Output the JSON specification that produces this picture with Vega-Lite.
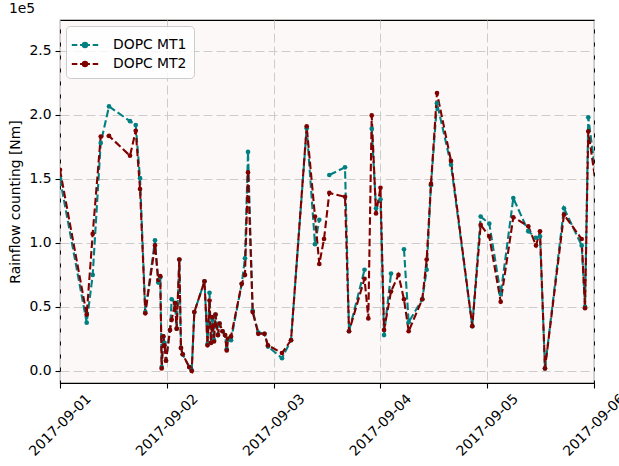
{
 "$schema": "https://vega.github.io/schema/vega-lite/v6.json",
 "width": 534, "height": 363,
 "autosize": {"type": "none"},
 "padding": {"left": 60, "top": 20, "right": 25, "bottom": 83},
 "background": "white",
 "config": {
  "font": "DejaVu Sans",
  "view": {"fill": "#fdf8f8", "stroke": "#000000", "strokeWidth": 1.1},
  "axis": {"labelFont": "DejaVu Sans", "labelFontSize": 13.9, "labelColor": "#000", "titleFont": "DejaVu Sans", "titleFontSize": 13.9, "titleFontWeight": "normal", "titleColor": "#000", "tickColor": "#000", "tickSize": 5, "tickWidth": 1.1, "labelPadding": 4, "domain": false, "grid": true, "gridColor": "#cccccc", "gridDash": [9, 4], "gridWidth": 1}
 },
 "title": {"text": "1e5", "anchor": "start", "fontSize": 13.9, "fontWeight": "normal", "font": "DejaVu Sans", "offset": 4, "color": "#000"},
 "data": {"values": [
  {"t": "2017-09-01T00:00", "DOPC MT1": 150000, "DOPC MT2": 157000},
  {"t": "2017-09-01T06:00", "DOPC MT1": 37700, "DOPC MT2": 44000},
  {"t": "2017-09-01T07:21", "DOPC MT1": 75000, "DOPC MT2": 107000},
  {"t": "2017-09-01T09:09", "DOPC MT1": 178000, "DOPC MT2": 183000},
  {"t": "2017-09-01T11:01", "DOPC MT1": 206500, "DOPC MT2": 183500},
  {"t": "2017-09-01T15:44", "DOPC MT1": 195000, "DOPC MT2": 168000},
  {"t": "2017-09-01T17:01", "DOPC MT1": 192000, "DOPC MT2": 187500},
  {"t": "2017-09-01T17:59", "DOPC MT1": 150500, "DOPC MT2": 142000},
  {"t": "2017-09-01T19:10", "DOPC MT1": 46000, "DOPC MT2": 45000},
  {"t": "2017-09-01T21:21", "DOPC MT1": 102000, "DOPC MT2": 98000},
  {"t": "2017-09-01T22:05", "DOPC MT1": 69000, "DOPC MT2": 71000},
  {"t": "2017-09-01T22:32", "DOPC MT1": 73000, "DOPC MT2": 74000},
  {"t": "2017-09-01T22:51", "DOPC MT1": 3000, "DOPC MT2": 2000},
  {"t": "2017-09-01T23:13", "DOPC MT1": 27000, "DOPC MT2": 27000},
  {"t": "2017-09-01T23:29", "DOPC MT1": 22000, "DOPC MT2": 20000},
  {"t": "2017-09-01T23:49", "DOPC MT1": 8000, "DOPC MT2": 8000},
  {"t": "2017-09-02T00:43", "DOPC MT1": 32000, "DOPC MT2": 32000},
  {"t": "2017-09-02T01:06", "DOPC MT1": 56000, "DOPC MT2": 40000},
  {"t": "2017-09-02T01:51", "DOPC MT1": 53000, "DOPC MT2": 53000},
  {"t": "2017-09-02T02:13", "DOPC MT1": 33000, "DOPC MT2": 33000},
  {"t": "2017-09-02T02:49", "DOPC MT1": 87000, "DOPC MT2": 87000},
  {"t": "2017-09-02T03:11", "DOPC MT1": 18000, "DOPC MT2": 18000},
  {"t": "2017-09-02T03:34", "DOPC MT1": 13000, "DOPC MT2": 13000},
  {"t": "2017-09-02T05:03", "DOPC MT1": 3000, "DOPC MT2": 3000},
  {"t": "2017-09-02T05:36", "DOPC MT1": 500, "DOPC MT2": 0},
  {"t": "2017-09-02T06:11", "DOPC MT1": 46000, "DOPC MT2": 46000},
  {"t": "2017-09-02T08:28", "DOPC MT1": 70000, "DOPC MT2": 70000},
  {"t": "2017-09-02T09:09", "DOPC MT1": 21000, "DOPC MT2": 20000},
  {"t": "2017-09-02T09:36", "DOPC MT1": 61000, "DOPC MT2": 55000},
  {"t": "2017-09-02T09:56", "DOPC MT1": 22000, "DOPC MT2": 22000},
  {"t": "2017-09-02T10:16", "DOPC MT1": 40000, "DOPC MT2": 42000},
  {"t": "2017-09-02T10:36", "DOPC MT1": 24000, "DOPC MT2": 23000},
  {"t": "2017-09-02T10:57", "DOPC MT1": 44000, "DOPC MT2": 44000},
  {"t": "2017-09-02T11:30", "DOPC MT1": 28000, "DOPC MT2": 28000},
  {"t": "2017-09-02T11:51", "DOPC MT1": 37000, "DOPC MT2": 37000},
  {"t": "2017-09-02T12:31", "DOPC MT1": 31000, "DOPC MT2": 31000},
  {"t": "2017-09-02T13:05", "DOPC MT1": 28000, "DOPC MT2": 28000},
  {"t": "2017-09-02T13:28", "DOPC MT1": 17000, "DOPC MT2": 16000},
  {"t": "2017-09-02T13:45", "DOPC MT1": 25000, "DOPC MT2": 25000},
  {"t": "2017-09-02T14:26", "DOPC MT1": 24000, "DOPC MT2": 27000},
  {"t": "2017-09-02T16:50", "DOPC MT1": 68000, "DOPC MT2": 68000},
  {"t": "2017-09-02T17:34", "DOPC MT1": 88000, "DOPC MT2": 75000},
  {"t": "2017-09-02T18:15", "DOPC MT1": 171000, "DOPC MT2": 155000},
  {"t": "2017-09-02T19:18", "DOPC MT1": 47000, "DOPC MT2": 46000},
  {"t": "2017-09-02T20:34", "DOPC MT1": 30000, "DOPC MT2": 29000},
  {"t": "2017-09-02T21:57", "DOPC MT1": 29000, "DOPC MT2": 29000},
  {"t": "2017-09-02T22:44", "DOPC MT1": 19000, "DOPC MT2": 20000},
  {"t": "2017-09-03T01:53", "DOPC MT1": 10000, "DOPC MT2": 14000},
  {"t": "2017-09-03T03:55", "DOPC MT1": 24000, "DOPC MT2": 24000},
  {"t": "2017-09-03T07:26", "DOPC MT1": 189500, "DOPC MT2": 191000},
  {"t": "2017-09-03T09:18", "DOPC MT1": 99000, "DOPC MT2": 120500},
  {"t": "2017-09-03T10:16", "DOPC MT1": 118000, "DOPC MT2": 83500},
  {"t": "2017-09-03T11:20", "DOPC MT1": null, "DOPC MT2": 103000},
  {"t": "2017-09-03T12:31", "DOPC MT1": 153000, "DOPC MT2": 139000},
  {"t": "2017-09-03T16:03", "DOPC MT1": 159000, "DOPC MT2": 136000},
  {"t": "2017-09-03T16:57", "DOPC MT1": 31000, "DOPC MT2": 31000},
  {"t": "2017-09-03T20:26", "DOPC MT1": 79000, "DOPC MT2": 72000},
  {"t": "2017-09-03T21:17", "DOPC MT1": null, "DOPC MT2": 41000},
  {"t": "2017-09-03T22:03", "DOPC MT1": 189000, "DOPC MT2": 199500},
  {"t": "2017-09-03T23:01", "DOPC MT1": 127000, "DOPC MT2": 123000},
  {"t": "2017-09-04T00:01", "DOPC MT1": 134000, "DOPC MT2": 143000},
  {"t": "2017-09-04T00:49", "DOPC MT1": 28000, "DOPC MT2": 32000},
  {"t": "2017-09-04T02:23", "DOPC MT1": 76000, "DOPC MT2": 62000},
  {"t": "2017-09-04T04:04", "DOPC MT1": null, "DOPC MT2": 75000},
  {"t": "2017-09-04T05:18", "DOPC MT1": 95000, "DOPC MT2": 56000},
  {"t": "2017-09-04T06:21", "DOPC MT1": 38000, "DOPC MT2": 31000},
  {"t": "2017-09-04T09:25", "DOPC MT1": 56000, "DOPC MT2": 56000},
  {"t": "2017-09-04T10:24", "DOPC MT1": 79000, "DOPC MT2": 87000},
  {"t": "2017-09-04T11:22", "DOPC MT1": 145000, "DOPC MT2": 146000},
  {"t": "2017-09-04T12:43", "DOPC MT1": 209000, "DOPC MT2": 217000},
  {"t": "2017-09-04T15:52", "DOPC MT1": 161000, "DOPC MT2": 164000},
  {"t": "2017-09-04T20:39", "DOPC MT1": 35000, "DOPC MT2": 35000},
  {"t": "2017-09-04T22:32", "DOPC MT1": 120500, "DOPC MT2": 114000},
  {"t": "2017-09-05T00:28", "DOPC MT1": 115000, "DOPC MT2": 105000},
  {"t": "2017-09-05T03:02", "DOPC MT1": 60000, "DOPC MT2": 54000},
  {"t": "2017-09-05T05:52", "DOPC MT1": 135000, "DOPC MT2": 120000},
  {"t": "2017-09-05T09:14", "DOPC MT1": 109000, "DOPC MT2": 113000},
  {"t": "2017-09-05T10:58", "DOPC MT1": 104000, "DOPC MT2": 98000},
  {"t": "2017-09-05T11:52", "DOPC MT1": 105000, "DOPC MT2": 109000},
  {"t": "2017-09-05T12:59", "DOPC MT1": 2000, "DOPC MT2": 2000},
  {"t": "2017-09-05T17:15", "DOPC MT1": 127000, "DOPC MT2": 122000},
  {"t": "2017-09-05T21:14", "DOPC MT1": 98000, "DOPC MT2": 103000},
  {"t": "2017-09-05T21:59", "DOPC MT1": 50000, "DOPC MT2": 49000},
  {"t": "2017-09-05T22:43", "DOPC MT1": 198000, "DOPC MT2": 187000},
  {"t": "2017-09-06T00:40", "DOPC MT1": 145000, "DOPC MT2": 140000}
 ]},
 "transform": [{"fold": ["DOPC MT1", "DOPC MT2"], "as": ["series", "v"]}],
 "encoding": {
  "x": {"field": "t", "type": "temporal",
   "scale": {"domain": [{"year": 2017, "month": 9, "date": 1}, {"year": 2017, "month": 9, "date": 6}]},
   "axis": {"format": "%Y-%m-%d", "labelAngle": -45, "labelAlign": "center", "labelBaseline": "middle", "labelDx": -3, "tickCount": {"interval": "day", "step": 1}, "title": null, "labelPadding": 37}},
  "y": {"field": "v", "type": "quantitative",
   "scale": {"domain": [-9400, 274000], "nice": false, "zero": false},
   "axis": {"values": [0, 50000, 100000, 150000, 200000, 250000], "labelExpr": "format(datum.value/100000, '.1f')", "title": "Rainflow counting [Nm]", "titlePadding": 6}}
 },
 "layer": [
  {"mark": {"type": "line", "strokeDash": [7.5, 3.2], "strokeWidth": 2.1, "clip": true},
   "encoding": {"color": {"field": "series", "type": "nominal",
    "scale": {"domain": ["DOPC MT1", "DOPC MT2"], "range": ["#008080", "#800000"]},
    "legend": {"orient": "top-left", "title": null, "offset": 6,
     "symbolType": "M-1.2,0H-0.7M-0.45,0H0.45M0.7,0H1.2M-0.2,0A0.2,0.2 0 1,1 0.2,0A0.2,0.2 0 1,1 -0.2,0",
     "symbolSize": 484, "symbolStrokeWidth": 2, "labelFontSize": 13.9, "labelFont": "DejaVu Sans", "labelColor": "#000", "labelOffset": 16,
     "fillColor": "rgba(255,255,255,0.8)", "strokeColor": "#cccccc", "cornerRadius": 4, "padding": 7, "rowPadding": 0,
     "encode": {"symbols": {"update": {"fill": {"scale": "color", "field": "value"}}}}}}}},
  {"mark": {"type": "point", "filled": true, "size": 22, "opacity": 1, "clip": true},
   "encoding": {"color": {"field": "series", "type": "nominal", "legend": null}}}
 ]
}
